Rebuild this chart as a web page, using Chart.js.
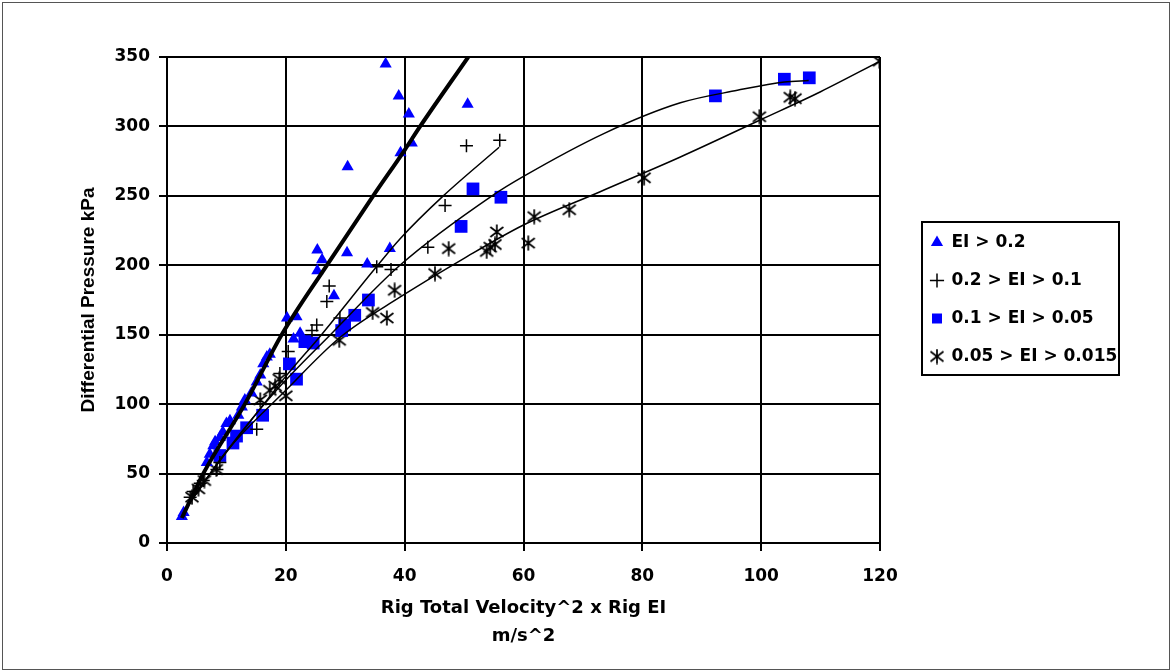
<!DOCTYPE html>
<html>
<head>
<meta charset="utf-8">
<script src="https://cdn.jsdelivr.net/npm/chart.js@4.4.1/dist/chart.umd.min.js"></script>
<style>
html,body{margin:0;padding:0;background:#fff;}
#wrap{width:1172px;height:672px;position:relative;}
</style>
</head>
<body>
<div id="wrap"><canvas id="c" width="1172" height="672"></canvas></div>
<script>
// ---- Data ----
const seriesNames = ['EI > 0.2', '0.2 > EI > 0.1', '0.1 > EI > 0.05', '0.05 > EI > 0.015'];

const triX = [2.5, 2.8, 6.7, 7.2, 7.8, 8.1, 8.9, 9.4, 10.0, 10.6, 12.0, 12.6, 13.1, 14.2, 15.1, 15.7, 16.2, 16.8, 17.3, 20.2, 21.3, 21.8, 22.4, 25.3, 26.1, 25.3, 28.1, 30.3, 30.4, 33.7, 37.5, 36.8, 39.0, 39.3, 40.7, 41.2, 50.6];
const triY = [19, 22, 58, 64, 70, 73, 76, 80, 86, 88, 92, 98, 103, 108, 116, 121, 129, 134, 136, 162, 147, 163, 151, 211, 204, 196, 178, 209, 271, 201, 212, 345, 322, 281, 309, 288, 316];

const plusX = [3.9, 4.4, 5.6, 6.1, 8.4, 8.9, 15.1, 19.0, 20.4, 24.4, 25.2, 26.9, 27.3, 29.1, 35.3, 37.7, 43.9, 46.8, 50.4, 56.0];
const plusY = [33, 37, 43, 45, 53, 58, 82, 122, 138, 153, 157, 174, 185, 162, 199, 197, 213, 243, 286, 290];

const sqX = [8.9, 11.1, 11.7, 13.4, 16.1, 20.6, 21.8, 23.2, 24.6, 29.4, 29.9, 31.6, 33.9, 49.5, 51.5, 56.2, 92.3, 103.9, 108.1];
const sqY = [63, 72, 77, 83, 92, 129, 118, 145, 144, 153, 157, 164, 175, 228, 255, 249, 322, 334, 335];

const astX = [4.2, 5.3, 6.3, 8.3, 15.7, 17.3, 18.2, 18.9, 20.0, 29.0, 34.6, 37.0, 38.3, 45.1, 47.4, 53.8, 54.4, 55.2, 55.5, 60.8, 61.8, 67.7, 80.3, 99.7, 104.9, 105.7, 119.9];
const astY = [33, 39, 45, 53, 103, 110, 113, 118, 106, 146, 166, 162, 182, 194, 212, 210, 213, 215, 224, 216, 235, 240, 263, 307, 321, 320, 347];

// fitted trend lines
const fitTriX = [2.5, 6.1, 13.1, 19.3, 26.9, 34.7, 40.0, 42.6, 50.7];
const fitTriY = [18, 50, 100, 150, 200, 250, 283, 300, 350];
const fitPlusX = [3.5, 8, 15, 20, 26, 34.7, 39.2, 46.5, 55.9];
const fitPlusY = [28, 54, 93, 120, 150, 196, 219, 250, 285];
const fitSqX = [4, 10, 18, 27.5, 39.2, 54.7, 60, 73.6, 86.4, 96, 103.9, 108];
const fitSqY = [30, 66, 108, 150, 200, 250, 264, 295, 317, 326, 332, 333];
const fitAstX = [4, 10, 20, 29.1, 39.2, 50, 60, 72.9, 86.4, 100, 110, 120];
const fitAstY = [30, 66, 110, 148, 177, 205, 229, 253, 278, 305, 325, 347];

const xTicks = [0, 20, 40, 60, 80, 100, 120];
const yTicks = [0, 50, 100, 150, 200, 250, 300, 350];

// ---- helpers ----
const pts = (xs, ys) => xs.map((x, i) => ({x: x, y: ys[i]}));

function makeAsterisk(size, lw) {
  const c = document.createElement('canvas');
  c.width = size; c.height = size;
  const g = c.getContext('2d');
  g.strokeStyle = '#000';
  g.lineWidth = lw;
  const m = 1.5;
  g.beginPath();
  g.moveTo(m, m + 1.5); g.lineTo(size - m, size - m - 1.5);
  g.moveTo(size - m, m + 1.5); g.lineTo(m, size - m - 1.5);
  g.moveTo(size / 2, 0.5); g.lineTo(size / 2, size - 0.5);
  g.stroke();
  return c;
}
const asterisk = makeAsterisk(16, 1.7);

Chart.defaults.font.family = "'DejaVu Sans', sans-serif";
Chart.defaults.font.weight = 'bold';
Chart.defaults.color = '#000';

const lineDs = (xs, ys, w) => ({
  label: '', data: pts(xs, ys), showLine: true, borderColor: '#000', backgroundColor: '#000',
  borderWidth: w, pointRadius: 0, cubicInterpolationMode: 'monotone', fill: false
});

const LEGEND_W = 292;
const LEGEND_SHIFT = 30;
const LEGEND_RAISE = 65;

const framePlugin = {
  id: 'frame',
  afterInit(chart) {
    const lg = chart.legend;
    if (lg) {
      const orig = lg.fit.bind(lg);
      lg.fit = function () { orig(); this.width = LEGEND_W; };
    }
  },
  afterLayout(chart) {
    const lg = chart.legend;
    if (lg) {
      lg.left += LEGEND_SHIFT; lg.right += LEGEND_SHIFT;
      lg.top -= LEGEND_RAISE; lg.bottom -= LEGEND_RAISE;
    }
  },
  afterDraw(chart) {
    const ctx = chart.ctx;
    const lg = chart.legend;
    const ca = chart.chartArea;
    ctx.save();
    ctx.strokeStyle = '#000';
    ctx.lineWidth = 2;
    const cy = (ca.top + ca.bottom) / 2;
    const l = lg.left + 12;
    ctx.strokeRect(l, cy - 78, 197, 153);
    ctx.lineWidth = 1;
    ctx.strokeStyle = '#555';
    ctx.strokeRect(2.5, 2.5, chart.width - 5, chart.height - 5);
    ctx.restore();
  }
};

new Chart(document.getElementById('c'), {
  type: 'scatter',
  data: {
    datasets: [
      lineDs(fitTriX, fitTriY, 4),
      lineDs(fitPlusX, fitPlusY, 1.5),
      lineDs(fitSqX, fitSqY, 1.5),
      lineDs(fitAstX, fitAstY, 1.5),
      { label: seriesNames[0], data: pts(triX, triY), pointStyle: 'triangle', pointRadius: 7,
        backgroundColor: '#0000ff', borderColor: '#0000ff', pointBorderWidth: 0, borderWidth: 0 },
      { label: seriesNames[1], data: pts(plusX, plusY), pointStyle: 'cross', pointRadius: 6.5,
        backgroundColor: '#000', borderColor: '#000', pointBorderWidth: 1.5, borderWidth: 1.5 },
      { label: seriesNames[2], data: pts(sqX, sqY), pointStyle: 'rect', pointRadius: 9,
        backgroundColor: '#0000ff', borderColor: '#0000ff', pointBorderWidth: 0, borderWidth: 0 },
      { label: seriesNames[3], data: pts(astX, astY), pointStyle: asterisk, pointRadius: 8,
        backgroundColor: '#000', borderColor: '#000', pointBorderWidth: 1.5, borderWidth: 1.5 }
    ]
  },
  options: {
    responsive: false,
    animation: false,
    devicePixelRatio: 1,
    layout: { padding: { top: 57, right: 0, bottom: 0, left: 0 } },
    plugins: {
      tooltip: { enabled: false },
      legend: {
        position: 'right',
        align: 'center',
        labels: {
          usePointStyle: true,
          boxWidth: 12,
          boxHeight: 10,
          padding: 21,
          color: '#000',
          font: { size: 17, weight: 'bold', family: "'DejaVu Sans', sans-serif" },
          filter: (item) => item.text !== ''
        }
      }
    },
    scales: {
      x: {
        type: 'linear', min: 0, max: 120,
        afterBuildTicks: (s) => { s.ticks = xTicks.map(v => ({value: v})); },
        ticks: { padding: 15, font: { size: 17, weight: 'bold' }, color: '#000' },
        grid: { color: '#000', lineWidth: 2, tickLength: 8, drawTicks: true, tickColor: '#000' },
        border: { color: '#000', width: 2 },
        title: { display: true, text: ['Rig Total Velocity^2 x Rig EI', 'm/s^2'], color: '#000',
                 font: { size: 18, weight: 'bold', lineHeight: '28px' }, padding: { top: 0, bottom: 22 } },
        afterFit: (s) => { s.height = 672 - 543; }
      },
      y: {
        type: 'linear', min: 0, max: 350,
        afterBuildTicks: (s) => { s.ticks = yTicks.map(v => ({value: v})); },
        ticks: { padding: 9, font: { size: 17, weight: 'bold' }, color: '#000' },
        grid: { color: '#000', lineWidth: 2, tickLength: 8, drawTicks: true, tickColor: '#000' },
        border: { color: '#000', width: 2 },
        title: { display: true, text: 'Differential Pressure kPa', color: '#000',
                 font: { size: 19, weight: 'bold', family: "'Liberation Sans', Arial, sans-serif" },
                 padding: { top: 77, bottom: 0 } },
        afterFit: (s) => { s.width = 167; }
      }
    }
  },
  plugins: [framePlugin]
});
</script>
</body>
</html>
